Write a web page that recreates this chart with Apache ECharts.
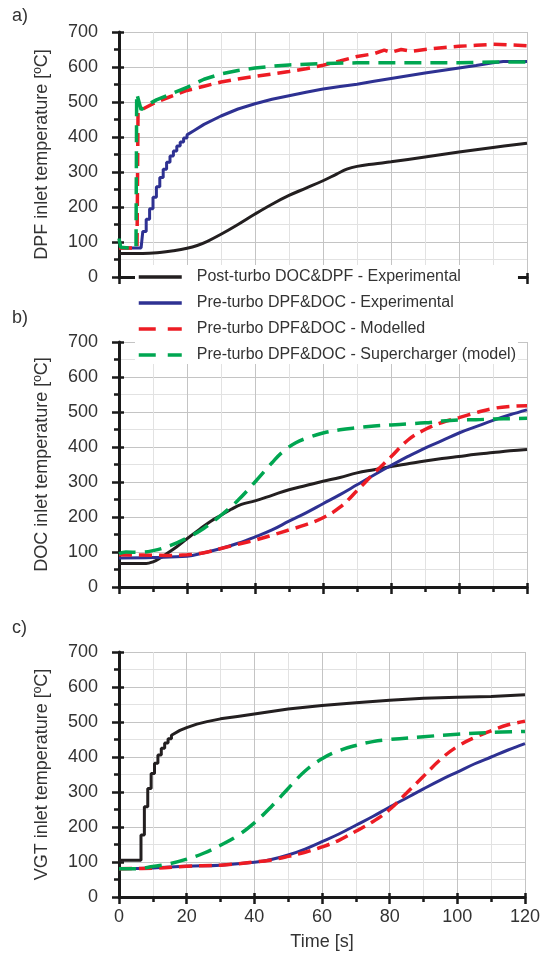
<!DOCTYPE html>
<html><head><meta charset="utf-8">
<script src="https://cdn.jsdelivr.net/npm/echarts@6/dist/echarts.min.js"></script>
<style>html,body{margin:0;padding:0;background:#fff}#c{width:543px;height:968px}</style>
</head><body><div id="c"></div>
<script>
// ---------- data (time [s], temperature [°C]) ----------
const seriesNames = [
  'Post-turbo DOC&DPF - Experimental',
  'Pre-turbo DPF&DOC - Experimental',
  'Pre-turbo DPF&DOC - Modelled',
  'Pre-turbo DPF&DOC - Supercharger (model)'
];
const yTitles = ['DPF inlet temperature [ºC]','DOC inlet temperature [ºC]','VGT inlet temperature [ºC]'];
const panelLabels = ['a)','b)','c)'];

// Panel a) DPF inlet
const postA = [[0,67],[7,67],[12,70],[16,75],[20,82],[23,90],[26,102],[30,122],[35,150],[40,180],[45,208],[50,233],[55,254],[60,275],[64,294],[67,308],[70,316],[75,323],[80,329],[90,343],[100,357],[110,370],[120,382]];
const preExpARise = [[0,83],[6.5,83],[7,130],[8,165],[9,195],[10,228],[11,258],[12,284],[13,308],[14,328],[15,346],[16,360],[17,374],[18,386],[19,397],[20,406]];
const preExpATail = [[22,418],[25,436],[30,460],[35,480],[40,495],[45,508],[50,518],[55,528],[60,537],[65,544],[70,551],[75,559],[80,567],[85,575],[90,583],[95,590],[100,597],[105,604],[110,612],[113,616],[120,616]];
const modA = [[0,83],[5.3,83],[5.6,473],[8,485],[11,500],[15,515],[20,533],[25,545],[30,557],[35,566],[40,573],[45,580],[50,587],[55,595],[60,605],[65,617],[70,630],[75,638],[78,648],[80,642],[83,650],[86,645],[90,650],[95,655],[100,659],[105,662],[110,665],[115,663],[120,661]];
const supA = [[0,110],[0.5,85],[3,83],[5,83],[5.2,525],[6.5,478],[8,490],[11,506],[15,522],[20,542],[25,565],[30,580],[35,590],[40,597],[45,602],[50,606],[60,610],[70,612],[80,612],[90,612],[100,612],[110,614],[120,614]];

// Panel b) DOC inlet
const postB = [[0,67],[8,67],[10,72],[12,82],[14,95],[17,115],[20,138],[24,167],[27,188],[30,205],[33,222],[36,236],[40,246],[45,262],[50,278],[55,290],[60,302],[65,313],[70,326],[75,335],[80,344],[85,352],[90,360],[95,367],[100,373],[105,379],[110,384],[115,389],[120,393]];
const preExpB = [[0,83],[10,84],[15,86],[20,88],[25,98],[30,110],[35,125],[40,143],[45,163],[50,188],[55,212],[60,238],[65,264],[70,292],[75,320],[80,347],[85,373],[90,397],[95,418],[100,440],[105,458],[110,476],[115,492],[120,506]];
const modB = [[0,92],[10,91],[15,90],[20,92],[25,98],[30,110],[35,122],[40,134],[45,148],[50,163],[55,178],[60,198],[65,228],[70,275],[75,325],[80,372],[85,420],[90,450],[95,470],[100,484],[105,498],[110,510],[115,516],[120,518]];
const supB = [[0,95],[2,100],[6,99],[10,104],[15,118],[20,140],[25,168],[30,205],[35,248],[40,300],[45,355],[48,385],[52,412],[56,428],[60,440],[65,449],[70,455],[75,460],[80,463],[85,466],[90,469],[95,474],[100,477],[105,478],[110,480],[115,481],[120,482]];

// Panel c) VGT inlet
const postCRise = [[0,105],[5.5,105],[6.5,177],[7.5,258],[8.5,310],[9.5,353],[10.5,382],[11.5,406],[12.5,425],[13.5,440],[14.5,452],[15.5,462]];
const postCTail = [[16,466],[18,476],[20,484],[23,494],[26,501],[30,509],[35,516],[40,523],[45,530],[50,537],[55,542],[60,547],[70,555],[80,562],[90,568],[100,571],[110,573],[120,578]];
const preExpC = [[0,81],[10,83],[20,88],[30,91],[40,99],[45,107],[50,120],[55,137],[60,158],[65,180],[70,205],[75,230],[80,257],[85,283],[90,309],[95,334],[100,357],[105,380],[110,400],[115,420],[120,438]];
const modC = [[0,81],[10,82],[20,88],[30,91],[40,100],[45,106],[50,116],[55,128],[60,143],[65,162],[70,188],[75,215],[80,250],[85,297],[90,345],[95,393],[100,430],[105,455],[110,475],[115,492],[120,502]];
const supC = [[0,81],[5,81],[10,87],[15,95],[20,108],[25,125],[30,148],[35,175],[40,212],[45,258],[50,310],[55,360],[60,395],[65,418],[70,433],[75,444],[80,450],[90,458],[100,465],[110,470],[120,473]];

// ---------- helpers ----------
function stairs(pts){ // horizontal-then-vertical steps between read values
  const out=[];
  pts.forEach((p,i)=>{ if(i>0) out.push([p[0], pts[i-1][1]]); out.push(p); });
  return out;
}
const FONT = 'Liberation Sans, Arial, sans-serif';
const TXT = '#333333';
const COLORS = ['#231F20','#2E3192','#ED1C24','#00A651'];
const tops = [32, 342, 652];
const H = 245;

const grids=[], xAxes=[], yAxes=[], series=[];
const panelData = [
  [postA, stairs(preExpARise).concat(preExpATail), modA, supA],
  [postB, preExpB, modB, supB],
  [stairs(postCRise).concat(postCTail), preExpC, modC, supC]
];
const smoothFlags = [[0.4,false,false,false],[0.4,0.4,0.4,0.4],[false,0.4,0.4,0.4]];

for(let g=0; g<3; g++){
  grids.push({left:119, right:16, top:tops[g], height:H});
  const last = g===2;
  xAxes.push({
    type:'value', gridIndex:g, min:0, max:120, interval:20, position:'bottom',
    axisLine:{show:true, onZero:false, lineStyle:{color:'#1a1a1a', width:3}},
    axisTick:{show:true, length:7, lineStyle:{color:'#1a1a1a', width:2.5}},
    minorTick:{show:true, splitNumber:2, length:5, lineStyle:{color:'#1a1a1a', width:2.5}},
    splitLine:{show:true, lineStyle:{color:'#c4c4c4', width:1}},
    minorSplitLine:{show:true, lineStyle:{color:'#e2e2e2', width:1}},
    axisLabel:{show:last, margin:11, fontSize:18, color:TXT, fontFamily:FONT},
    name: last ? 'Time [s]' : '', nameLocation:'middle', nameGap:36,
    nameTextStyle:{fontSize:18, color:TXT, fontFamily:FONT}
  });
  xAxes.push({
    type:'value', gridIndex:g, min:0, max:120, interval:20, position:'bottom',
    axisLine:{show:false}, axisTick:{show:true, inside:true, length:4, lineStyle:{color:'#1a1a1a', width:2.5}},
    axisLabel:{show:false}, splitLine:{show:false}
  });
  yAxes.push({
    type:'value', gridIndex:g, min:0, max:700, interval:100, position:'left',
    axisLine:{show:true, onZero:false, lineStyle:{color:'#1a1a1a', width:3}},
    axisTick:{show:true, length:7, lineStyle:{color:'#1a1a1a', width:2.5}},
    minorTick:{show:true, splitNumber:2, length:5, lineStyle:{color:'#1a1a1a', width:2.5}},
    splitLine:{show:true, lineStyle:{color:'#c4c4c4', width:1}},
    minorSplitLine:{show:true, lineStyle:{color:'#e2e2e2', width:1}},
    axisLabel:{margin:21, fontSize:18, color:TXT, fontFamily:FONT},
    name:yTitles[g], nameLocation:'middle', nameGap:68, nameRotate:90,
    nameTextStyle:{fontSize:18, color:TXT, fontFamily:FONT}
  });
  yAxes.push({
    type:'value', gridIndex:g, min:0, max:700, interval:100, position:'left',
    axisLine:{show:false}, axisTick:{show:true, inside:true, length:5, lineStyle:{color:'#1a1a1a', width:2.5}},
    axisLabel:{show:false}, splitLine:{show:false}
  });
  const styles = [
    {width:3, type:'solid'},
    {width:3, type:'solid'},
    {width:3.5, type:[13,7]},
    {width:3.5, type:[17,9]}
  ];
  for(let s=0; s<4; s++){
    series.push({
      type:'line', name:seriesNames[s], data:panelData[g][s],
      xAxisIndex:g*2, yAxisIndex:g*2, symbol:'none', showSymbol:false,
      smooth:smoothFlags[g][s],
      lineStyle:Object.assign({color:COLORS[s], cap:'butt'}, styles[s]),
      itemStyle:{color:COLORS[s]},
      z: 2+s, animation:false
    });
  }
}

const chart = echarts.init(document.getElementById('c'), null, {renderer:'canvas'});
chart.setOption({
  animation:false,
  grid:grids, xAxis:xAxes, yAxis:yAxes, series:series,
  legend:{
    show:true, orient:'vertical', left:135, top:265,
    padding:[4,2,1,2], itemGap:10, itemWidth:43, itemHeight:14,
    backgroundColor:'#ffffff', z:20,
    itemStyle:{opacity:0, borderWidth:0},
    data:seriesNames.map((n,i)=>({name:n, lineStyle: i>=2 ? {type:[17,12], width:3.5} : {width:3.5}})),
    textStyle:{fontSize:16, lineHeight:16, color:TXT, fontFamily:FONT, padding:[0,0,0,10]},
    selectedMode:false
  },
  graphic: panelLabels.map((t,i)=>({
    type:'text', left:12, top:[7,309,619][i],
    style:{text:t, fontSize:18, fill:TXT, fontFamily:FONT}
  }))
});
</script></body></html>
